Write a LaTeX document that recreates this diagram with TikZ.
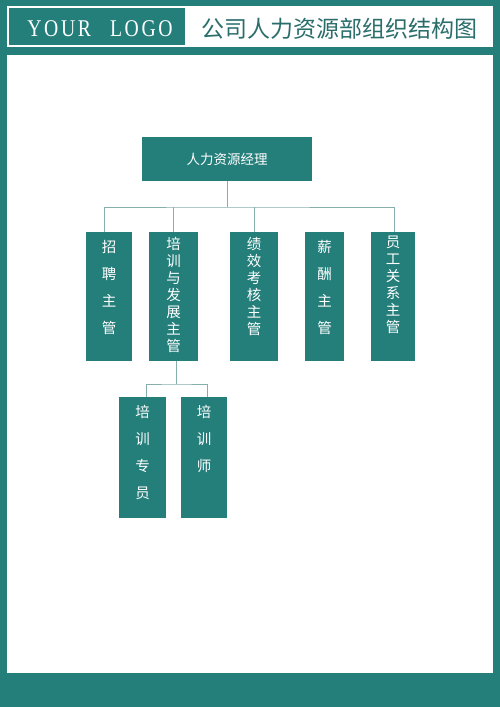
\documentclass[tikz,border=0pt]{standalone}
\usepackage{fontspec}
\setmainfont{Liberation Serif}
\newfontfamily\cjk{Noto Sans CJK SC}
\newfontfamily\logofont[LetterSpace=11,FakeStretch=0.82]{Liberation Serif}
\definecolor{tealA}{HTML}{247F7B}
\definecolor{lineA}{HTML}{86AFAC}
\definecolor{titleA}{HTML}{2A6E6B}
\tikzset{
  orgbox/.style={draw=none, fill=tealA, inner sep=0pt, minimum height=129pt},
  subbox/.style={draw=none, fill=tealA, inner sep=0pt, minimum height=121pt},
  vlabel/.style={text=white, inner sep=0pt, align=center, anchor=north},
  dense/.style={font=\cjk\fontsize{14.5}{17}\selectfont},
  sparse/.style={font=\cjk\fontsize{14.5}{27}\selectfont},
  conn/.style={draw=lineA, line width=1pt}
}
\begin{document}
\begin{tikzpicture}[x=1pt,y=-1pt]
\path[fill=tealA] (0,0) rectangle (500,707);
\useasboundingbox (0,0) rectangle (500,707);
% header
\path[fill=white] (7,6) rectangle (493,47);
\path[fill=tealA] (9,8) rectangle (185,45);
\node[text=white, font=\logofont\fontsize{24}{24}\selectfont, inner sep=0pt] (logo) at (100,29) {YOUR\hspace{19pt}LOGO};
\node[text=titleA, font=\cjk\fontsize{23}{23}\selectfont, inner sep=0pt] (title) at (339,29) {公司人力资源部组织结构图};
% main area
\path[fill=white] (7,55) rectangle (493,673);
% top box
\node[fill=tealA, minimum width=170pt, minimum height=44pt, inner sep=0pt, text=white, font=\cjk\fontsize{13.5}{14}\selectfont] (top) at (227,159) {人力资源经理};
% second level
\node[orgbox, minimum width=46pt] (b1) at (109,296.5) {};
\node[orgbox, minimum width=49pt] (b2) at (173.5,296.5) {};
\node[orgbox, minimum width=48pt] (b3) at (254,296.5) {};
\node[orgbox, minimum width=39pt] (b4) at (324.5,296.5) {};
\node[orgbox, minimum width=44pt] (b5) at (393,296.5) {};
\node[vlabel, sparse] (t1) at (109,240) {招\\聘\\主\\管};
\node[vlabel, dense] (t2) at (173.5,237) {培\\训\\与\\发\\展\\主\\管};
\node[vlabel, dense] (t3) at (254,237) {绩\\效\\考\\核\\主\\管};
\node[vlabel, sparse] (t4) at (324.5,240) {薪\\酬\\主\\管};
\node[vlabel, dense] (t5) at (393,236) {员\\工\\关\\系\\主\\管};
% third level
\node[subbox, minimum width=47pt] (b6) at (142.5,457.5) {};
\node[subbox, minimum width=46pt] (b7) at (204,457.5) {};
\node[vlabel, sparse] (t6) at (142.5,405) {培\\训\\专\\员};
\node[vlabel, sparse] (t7) at (204,405) {培\\训\\师};
% connectors
\coordinate (bus) at (227,207);
\coordinate (sbus) at (176,384);
\draw[conn] (top.south) -- (bus);
\draw[conn] ([xshift=-5pt]b1.north) |- (bus) -| ([xshift=1pt]b5.north);
\draw[conn] (b2.north) -- (b2.north |- bus);
\draw[conn] (b3.north) -- (b3.north |- bus);
\draw[conn] ([xshift=2.5pt]b2.south) -- (sbus);
\draw[conn] ([xshift=3.5pt]b6.north) |- (sbus) -| ([xshift=3pt]b7.north);
\end{tikzpicture}
\end{document}
